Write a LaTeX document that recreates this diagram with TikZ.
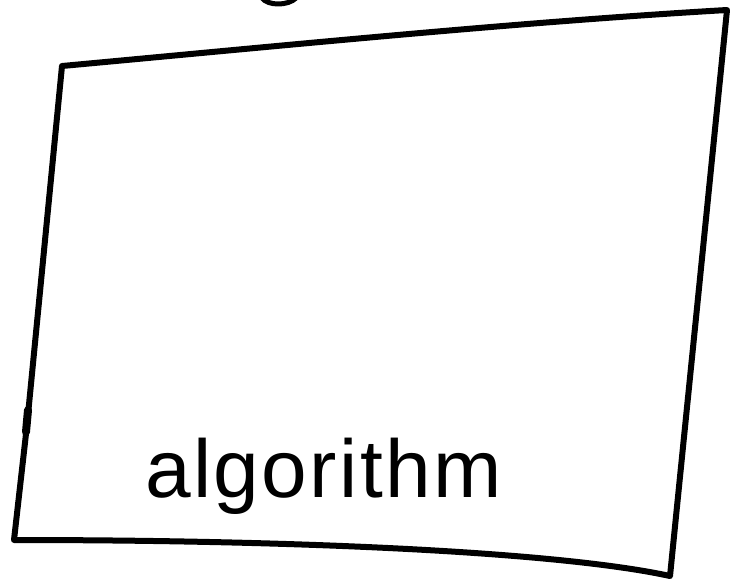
\documentclass[tikz,border=0pt]{standalone}
\usepackage{fontspec}
\setmainfont{Liberation Sans}
\usetikzlibrary{positioning, calc}

\begin{document}
\begin{tikzpicture}[
    x=1pt, y=-1pt,
    pen/.style={draw=black, line width=6pt, line join=round, line cap=round},
    label_text/.style={font=\fontsize{82}{88}\selectfont\addfontfeatures{LetterSpace=3}, inner sep=0pt, anchor=base west}
]

\useasboundingbox (0,0) rectangle (730,582);

% Corners
\coordinate (tl) at (62,66);
\coordinate (tr) at (727,10);
\coordinate (br) at (670,576);
\coordinate (bl) at (14,540);

% Box
\draw[pen] (tl) .. controls (300,44) and (520,22) .. (tr)
    -- (br)
    .. controls (560,552) and (300,540) .. (bl)
    -- (27,425) -- (tl);
\draw[pen, line width=8pt] (28,410) -- (26,432);

% Cut-off stroke at the top
\draw[pen, line width=5pt] (262,-2) .. controls (268,6) and (288,6) .. (296,-2);

% Text
\node[label_text] (algo) at (145,497) {algorithm};

\end{tikzpicture}
\end{document}
